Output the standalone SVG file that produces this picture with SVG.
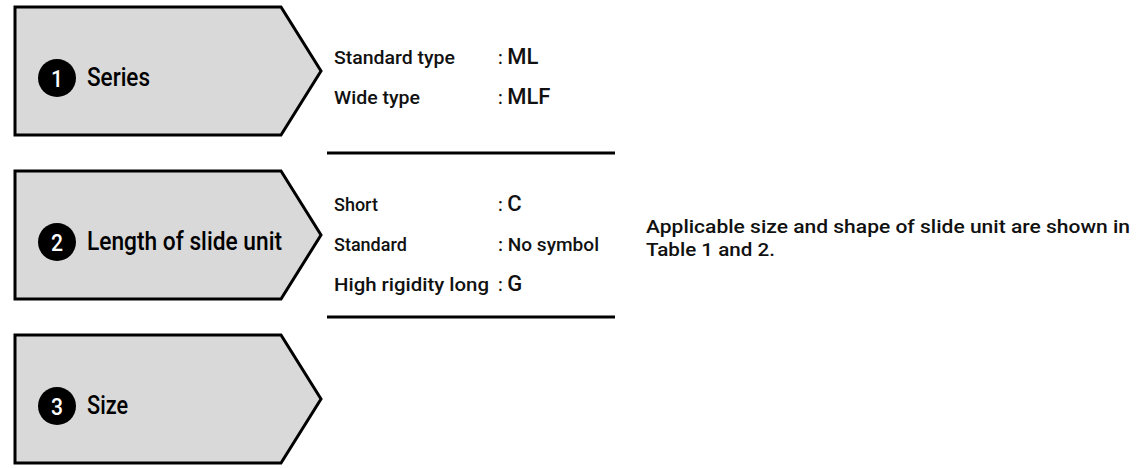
<svg xmlns="http://www.w3.org/2000/svg" width="1148" height="468" viewBox="0 0 1148 468">
<style>
.box{fill:#d9d9d9;stroke:#000;stroke-width:3;stroke-linejoin:miter}
.num{fill:#000}
.numt{fill:#fff;font-family:Roboto,"Liberation Sans",Arial,sans-serif;font-size:24px;font-weight:500;text-anchor:middle}
.lbl{fill:#000;font-family:Roboto,"Liberation Sans",Arial,sans-serif;font-size:25px;font-weight:500}
.t{fill:#111;font-family:Roboto,"Liberation Sans",Arial,sans-serif;font-size:18px;font-weight:500}
.code{font-size:22px}
.note{fill:#111;font-family:Roboto,"Liberation Sans",Arial,sans-serif;font-size:19px;font-weight:500}
.rule{stroke:#000;stroke-width:3}
</style>
<g id="node-series">
<polygon class="box" points="15,7 281,7 321,71 281,135 15,135"/>
<circle class="num" cx="57" cy="78" r="19"/>
<text class="numt" x="57" y="86.5" textLength="12" lengthAdjust="spacingAndGlyphs">1</text>
<text class="lbl" x="87" y="86" textLength="63" lengthAdjust="spacingAndGlyphs">Series</text>
</g>
<g id="node-length">
<polygon class="box" points="15,171 281,171 321,235 281,299 15,299"/>
<circle class="num" cx="57" cy="242" r="19"/>
<text class="numt" x="57" y="250.5" textLength="12" lengthAdjust="spacingAndGlyphs">2</text>
<text class="lbl" x="87" y="250" textLength="195" lengthAdjust="spacingAndGlyphs">Length of slide unit</text>
</g>
<g id="node-size">
<polygon class="box" points="15,335 281,335 321,399 281,463 15,463"/>
<circle class="num" cx="57" cy="406" r="19"/>
<text class="numt" x="57" y="414.5" textLength="12" lengthAdjust="spacingAndGlyphs">3</text>
<text class="lbl" x="87" y="414" textLength="41" lengthAdjust="spacingAndGlyphs">Size</text>
</g>
<g id="options-series">
<text class="t" x="334" y="64" textLength="121" lengthAdjust="spacingAndGlyphs">Standard type</text>
<text class="t" x="498" y="64">: <tspan class="code">ML</tspan></text>
<text class="t" x="334" y="104" textLength="86" lengthAdjust="spacingAndGlyphs">Wide type</text>
<text class="t" x="498" y="104">: <tspan class="code">MLF</tspan></text>
</g>
<g id="options-length">
<text class="t" x="334" y="211">Short</text>
<text class="t" x="498" y="211">: <tspan class="code">C</tspan></text>
<text class="t" x="334" y="251">Standard</text>
<text class="t" x="498" y="251" textLength="101" lengthAdjust="spacingAndGlyphs">: No symbol</text>
<text class="t" x="334" y="291" textLength="155" lengthAdjust="spacingAndGlyphs">High rigidity long</text>
<text class="t" x="498" y="291">: <tspan class="code">G</tspan></text>
</g>
<g id="connectors">
<line class="rule" x1="327" y1="153" x2="615" y2="153"/>
<line class="rule" x1="327" y1="317" x2="615" y2="317"/>
</g>
<g id="note">
<text class="note" x="646" y="233" textLength="484" lengthAdjust="spacingAndGlyphs">Applicable size and shape of slide unit are shown in</text>
<text class="note" x="646" y="256" textLength="129" lengthAdjust="spacingAndGlyphs">Table 1 and 2.</text>
</g>
</svg>
